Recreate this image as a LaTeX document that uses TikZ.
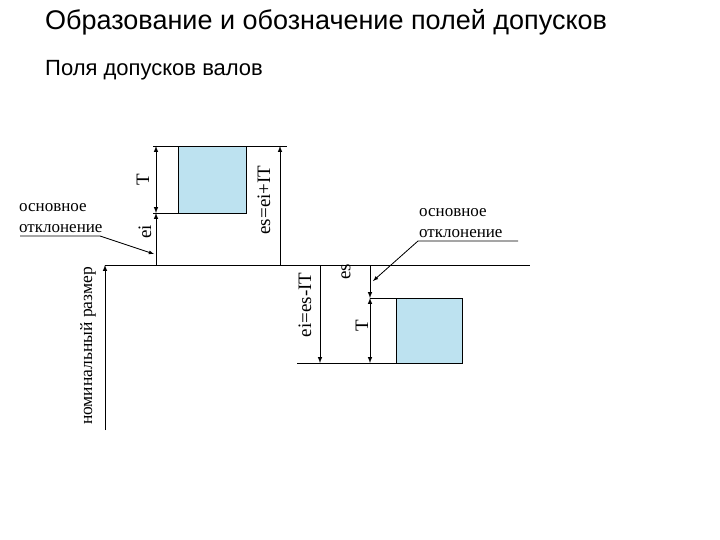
\documentclass[tikz,border=0pt]{standalone}
\usepackage{fontspec}
\setmainfont{Liberation Serif}
\newfontfamily\titlefont{Liberation Sans}
\begin{document}
\begin{tikzpicture}[x=1pt,y=-1pt,
  ln/.style={line width=0.9pt},
  dim/.style={line width=1pt,-latex},
  ddim/.style={line width=1pt,latex-latex},
  box/.style={draw,fill=cyan!25!white!90!gray,line width=0.8pt},
  lbl/.style={font=\fontsize{19}{19}\selectfont,rotate=90,inner sep=0},
  txt/.style={font=\fontsize{17}{21}\selectfont,align=left,inner sep=1pt}]
\useasboundingbox (0,0) rectangle (720,540);
\node[anchor=west,font=\titlefont\fontsize{27}{30}\selectfont,inner sep=0] (title) at (45,22) {Образование и обозначение полей допусков};
\node[anchor=west,font=\titlefont\fontsize{22}{24}\selectfont,inner sep=0] (sub) at (45,70) {Поля допусков валов};
% zero line
\coordinate (z0) at (105,265); \coordinate (z1) at (530,265);
\draw[ln] (z0) -- (z1);
\coordinate (nb) at (105,430);
\draw[dim] (nb) -- (z0);
\node[lbl,font=\fontsize{17.5}{17.5}\selectfont] (nom) at (88,346) {номинальный размер};
% top box
\node[box,minimum width=68,minimum height=67,inner sep=0,anchor=north west] (b1) at (178,146) {};
\coordinate (t0) at (153,146); \coordinate (t1) at (287,146);
\coordinate (m0) at (153,213); \coordinate (m1) at (178,213);
\draw[ln] (t0) -- (t1); \draw[ln] (m0) -- (m1);
\coordinate (a1) at (156,146); \coordinate (a2) at (156,213); \coordinate (a3) at (156,265);
\draw[ddim] (a1) -- (a2);
\draw[dim] (a3) -- (a2);
\node[lbl] (T1) at (143,180) {T};
\node[lbl] (ei1) at (145,232) {ei};
\coordinate (r0) at (280,265); \coordinate (r1) at (280,146);
\draw[dim] (r0) -- (r1);
\node[lbl] (es1) at (264,200) {es=ei+IT};
\node[txt,anchor=south west] (od1) at (18,234) {основное\\отклонение};
\coordinate (u0) at (20,236); \coordinate (u1) at (100,236); \coordinate (u2) at (154,254);
\draw[line width=0.8pt,-latex] (u0) -- (u1) -- (u2);
% bottom box
\node[box,minimum width=66,minimum height=65,inner sep=0,anchor=north west] (b2) at (396,298) {};
\coordinate (p0) at (370,298); \coordinate (q0) at (297,363); \coordinate (q1) at (396,363);
\draw[ln] (p0) -- (b2.north west); \draw[ln] (q0) -- (q1);
\coordinate (c0) at (320,265); \coordinate (c1) at (320,363);
\draw[dim] (c0) -- (c1);
\node[lbl] (ei2) at (305,305) {ei=es-IT};
\coordinate (d0) at (370,265); \coordinate (d1) at (370,298); \coordinate (d2) at (370,363);
\draw[dim] (d0) -- (d1);
\draw[ddim] (d1) -- (d2);
\node[lbl] (es2) at (346,272) {es};
\node[lbl] (T2) at (362,326) {T};
\node[txt,anchor=south west] (od2) at (418,239) {основное\\отклонение};
\coordinate (v0) at (518,241); \coordinate (v1) at (418,241); \coordinate (v2) at (373,281);
\draw[line width=0.8pt,-latex] (v0) -- (v1) -- (v2);
\end{tikzpicture}
\end{document}
